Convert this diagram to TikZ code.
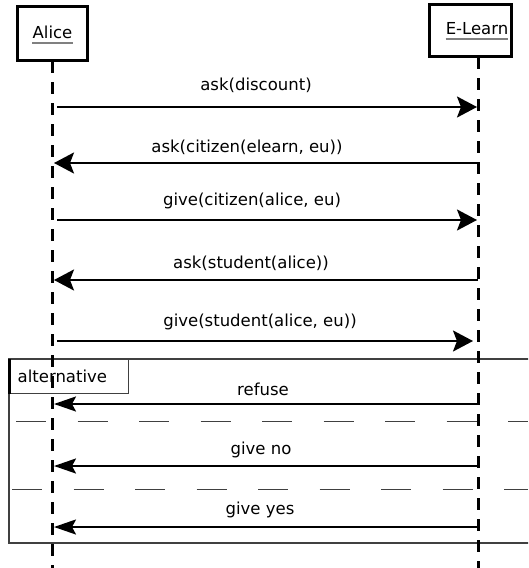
\documentclass[tikz,border=0pt]{standalone}
\usepackage{fontspec}
\setmainfont{DejaVu Sans}
\usetikzlibrary{arrows.meta}
\begin{document}
\begin{tikzpicture}[x=1pt,y=-1pt,
  actor/.style={draw, line width=3pt, fill=white, inner sep=0pt},
  lifeline/.style={line width=3pt, dash pattern=on 12pt off 9pt},
  msg/.style={line width=2.2pt, -{Stealth[length=20pt,width=21pt,inset=4pt]}},
  altmsg/.style={line width=2.2pt, -{Stealth[length=22pt,width=15pt,inset=4pt]}},
  lbl/.style={font=\fontsize{16.5}{20}\selectfont, inner sep=0pt, anchor=center},
  uline/.style={draw=gray, line width=2pt},
  frame/.style={draw=black!75, line width=1.4pt},
  sep/.style={draw=black!75, line width=1pt, dash pattern=on 30pt off 31.5pt}]
\clip (0,0) rectangle (528,568);
% actors
\node[actor, minimum width=70pt, minimum height=54pt] (alice) at (52.5,33.5) {};
\node[lbl] (alicet) at (52.5,32) {Alice};
\draw[uline] ([yshift=-4pt]alicet.south west) -- ([yshift=-4pt]alicet.south east);
\node[actor, minimum width=82pt, minimum height=52pt] (elearn) at (470.5,30.5) {};
\node[lbl] (elearnt) at (477,29) {E-Learn};
\draw[uline] ([yshift=-4pt]elearnt.south west) -- ([yshift=-4pt]elearnt.south east);
% lifeline coordinates
\coordinate (aTop) at (52,61);
\coordinate (aBot) at (52,568);
\coordinate (eTop) at (478,57);
\coordinate (eBot) at (478,568);
% alternative frame
\draw[frame] (9,359) rectangle (545,543);
\node[frame, anchor=north west, minimum width=119pt, minimum height=34pt,
      text width=103pt, inner xsep=8pt, inner ysep=0pt, align=left,
      font=\fontsize{16.5}{20}\selectfont] (alt) at (9,359) {alternative};
\draw[line width=3pt] (alt.north west) -- (alt.south west);
\coordinate (s1a) at (16,421);
\coordinate (s1b) at (528,421);
\coordinate (s2a) at (12,489);
\coordinate (s2b) at (528,489);
\draw[sep] (s1a) -- (s1b);
\draw[sep] (s2a) -- (s2b);
% lifelines
\draw[lifeline] (aTop) -- (aBot);
\draw[lifeline] (eTop) -- (eBot);
% message endpoints
\coordinate (m1a) at (57,107);  \coordinate (m1b) at (477,107);
\coordinate (m2a) at (478,163); \coordinate (m2b) at (54,163);
\coordinate (m3a) at (57,220);  \coordinate (m3b) at (477,220);
\coordinate (m4a) at (478,280); \coordinate (m4b) at (54,280);
\coordinate (m5a) at (57,341);  \coordinate (m5b) at (473,341);
\coordinate (m6a) at (478,404); \coordinate (m6b) at (54,404);
\coordinate (m7a) at (478,466); \coordinate (m7b) at (54,466);
\coordinate (m8a) at (478,527); \coordinate (m8b) at (54,527);
\draw[msg] (m1a) -- (m1b);
\draw[msg] (m2a) -- (m2b);
\draw[msg] (m3a) -- (m3b);
\draw[msg] (m4a) -- (m4b);
\draw[msg] (m5a) -- (m5b);
\draw[altmsg] (m6a) -- (m6b);
\draw[altmsg] (m7a) -- (m7b);
\draw[altmsg] (m8a) -- (m8b);
% labels
\node[lbl] (l1) at (256,85) {ask(discount)};
\node[lbl] (l2) at (247,147) {ask(citizen(elearn, eu))};
\node[lbl] (l3) at (252,201) {give(citizen(alice, eu)};
\node[lbl] (l4) at (251,263) {ask(student(alice))};
\node[lbl] (l5) at (260,322) {give(student(alice, eu))};
\node[lbl] (l6) at (263,389) {refuse};
\node[lbl] (l7) at (261,450) {give no};
\node[lbl] (l8) at (260,510) {give yes};
\end{tikzpicture}
\end{document}
